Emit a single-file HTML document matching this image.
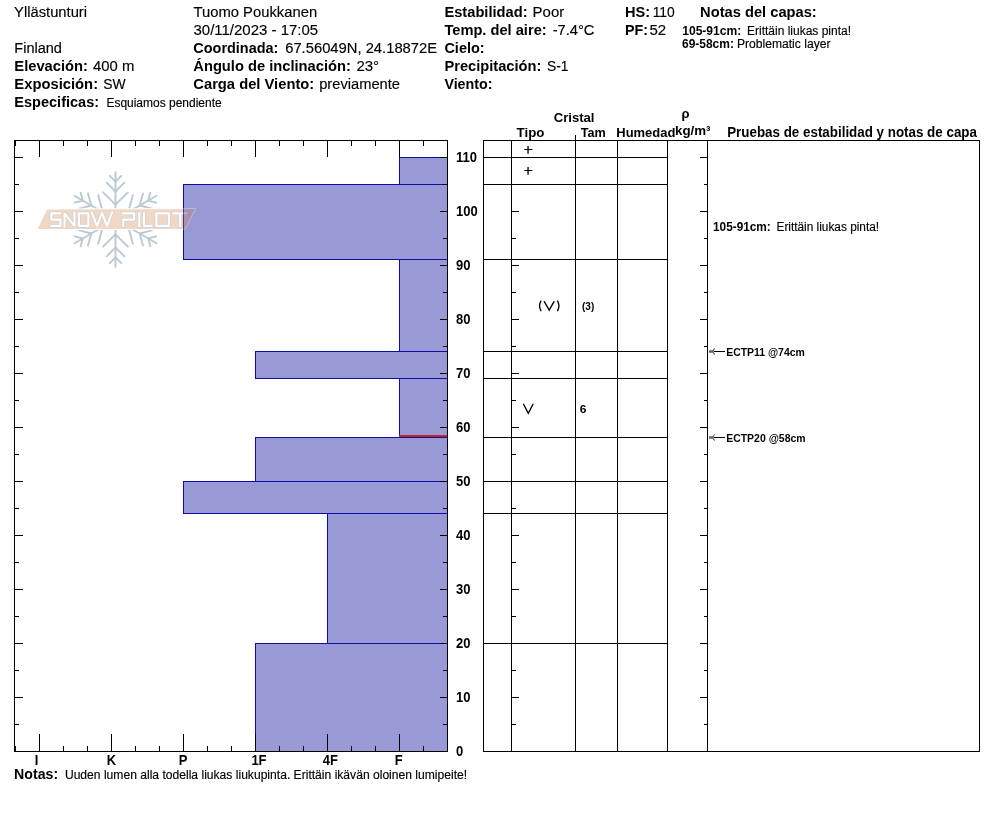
<!DOCTYPE html>
<html><head><meta charset="utf-8"><title>Snow profile</title>
<style>html,body{margin:0;padding:0;background:#fff;}svg{display:block;will-change:transform;}text{font-family:"Liberation Sans",sans-serif;fill:#000;}text.r{stroke:#000;stroke-width:0.15px;}</style>
</head><body>
<svg width="994" height="840" viewBox="0 0 994 840">
<rect x="0" y="0" width="994" height="840" fill="#fff"/>
<rect x="399" y="157" width="48" height="27" fill="rgba(0,0,152,0.4)"/>
<rect x="183" y="184" width="264" height="75" fill="rgba(0,0,152,0.4)"/>
<rect x="399" y="259" width="48" height="92" fill="rgba(0,0,152,0.4)"/>
<rect x="255" y="351" width="192" height="27" fill="rgba(0,0,152,0.4)"/>
<rect x="399" y="378" width="48" height="59" fill="rgba(0,0,152,0.4)"/>
<rect x="255" y="437" width="192" height="44" fill="rgba(0,0,152,0.4)"/>
<rect x="183" y="481" width="264" height="32" fill="rgba(0,0,152,0.4)"/>
<rect x="327" y="513" width="120" height="130" fill="rgba(0,0,152,0.4)"/>
<rect x="255" y="643" width="192" height="108" fill="rgba(0,0,152,0.4)"/>
<rect x="399" y="157" width="49" height="1" fill="#0c0ca6"/>
<rect x="399" y="184" width="49" height="1" fill="#0c0ca6"/>
<rect x="399" y="157" width="1" height="28" fill="#0c0ca6"/>
<rect x="183" y="184" width="265" height="1" fill="#0c0ca6"/>
<rect x="183" y="259" width="265" height="1" fill="#0c0ca6"/>
<rect x="183" y="184" width="1" height="76" fill="#0c0ca6"/>
<rect x="399" y="259" width="49" height="1" fill="#0c0ca6"/>
<rect x="399" y="351" width="49" height="1" fill="#0c0ca6"/>
<rect x="399" y="259" width="1" height="93" fill="#0c0ca6"/>
<rect x="255" y="351" width="193" height="1" fill="#0c0ca6"/>
<rect x="255" y="378" width="193" height="1" fill="#0c0ca6"/>
<rect x="255" y="351" width="1" height="28" fill="#0c0ca6"/>
<rect x="399" y="378" width="49" height="1" fill="#0c0ca6"/>
<rect x="399" y="437" width="49" height="1" fill="#0c0ca6"/>
<rect x="399" y="378" width="1" height="60" fill="#0c0ca6"/>
<rect x="255" y="437" width="193" height="1" fill="#0c0ca6"/>
<rect x="255" y="481" width="193" height="1" fill="#0c0ca6"/>
<rect x="255" y="437" width="1" height="45" fill="#0c0ca6"/>
<rect x="183" y="481" width="265" height="1" fill="#0c0ca6"/>
<rect x="183" y="513" width="265" height="1" fill="#0c0ca6"/>
<rect x="183" y="481" width="1" height="33" fill="#0c0ca6"/>
<rect x="327" y="513" width="121" height="1" fill="#0c0ca6"/>
<rect x="327" y="643" width="121" height="1" fill="#0c0ca6"/>
<rect x="327" y="513" width="1" height="131" fill="#0c0ca6"/>
<rect x="255" y="643" width="193" height="1" fill="#0c0ca6"/>
<rect x="255" y="751" width="193" height="1" fill="#0c0ca6"/>
<rect x="255" y="643" width="1" height="109" fill="#0c0ca6"/>
<rect x="399" y="435" width="48" height="2" fill="#c0281c"/>
<g opacity="0.3">
<g stroke="#204e70" stroke-width="1.9" stroke-linecap="round" fill="none">
<path d="M115.5,219.5L115.5,172.1"/>
<path d="M115.5,181.6L109.7,175.8"/>
<path d="M115.5,181.6L121.3,175.8"/>
<path d="M115.5,191.5L106.7,182.7"/>
<path d="M115.5,191.5L124.3,182.7"/>
<path d="M115.5,204.7L103.1,192.3"/>
<path d="M115.5,204.7L127.9,192.3"/>
<path d="M115.5,219.5L156.5,195.8"/>
<path d="M148.3,200.6L150.4,192.6"/>
<path d="M148.3,200.6L156.2,202.7"/>
<path d="M139.7,205.5L143.0,193.4"/>
<path d="M139.7,205.5L151.8,208.7"/>
<path d="M128.3,212.1L132.8,195.2"/>
<path d="M128.3,212.1L145.2,216.6"/>
<path d="M115.5,219.5L156.5,243.2"/>
<path d="M148.3,238.4L156.2,236.3"/>
<path d="M148.3,238.4L150.4,246.4"/>
<path d="M139.7,233.5L151.8,230.3"/>
<path d="M139.7,233.5L143.0,245.6"/>
<path d="M128.3,226.9L145.2,222.4"/>
<path d="M128.3,226.9L132.8,243.8"/>
<path d="M115.5,219.5L115.5,266.9"/>
<path d="M115.5,257.4L121.3,263.2"/>
<path d="M115.5,257.4L109.7,263.2"/>
<path d="M115.5,247.5L124.3,256.3"/>
<path d="M115.5,247.5L106.7,256.3"/>
<path d="M115.5,234.3L127.9,246.7"/>
<path d="M115.5,234.3L103.1,246.7"/>
<path d="M115.5,219.5L74.5,243.2"/>
<path d="M82.7,238.5L80.6,246.4"/>
<path d="M82.7,238.5L74.8,236.3"/>
<path d="M91.3,233.5L88.0,245.6"/>
<path d="M91.3,233.5L79.2,230.3"/>
<path d="M102.7,226.9L98.2,243.8"/>
<path d="M102.7,226.9L85.8,222.4"/>
<path d="M115.5,219.5L74.5,195.8"/>
<path d="M82.7,200.6L74.8,202.7"/>
<path d="M82.7,200.6L80.6,192.6"/>
<path d="M91.3,205.5L79.2,208.7"/>
<path d="M91.3,205.5L88.0,193.4"/>
<path d="M102.7,212.1L85.8,216.6"/>
<path d="M102.7,212.1L98.2,195.2"/>
</g>
<path d="M46.8,209 L195.6,208.6 L184.8,229.5 L37.0,229.5 Z" fill="#d08041" stroke="#ffffff" stroke-width="1"/>
<clipPath id="lc"><rect x="40" y="211.7" width="160" height="15.8"/></clipPath>
<path d="M60.45,213.35 H51.35 V219.6 H60.45 V225.85 H51.35 M78.85,213.35 H88.35 V225.85 H78.85 Z M122.8,213.35 H134.25 V219.6 H123.3 V225.85 M139.3,213.35 V225.85 M143.95,213.35 V225.85 H151.55 M156.35,213.35 H168.95 V225.85 H156.35 Z M173.35,213.35 H186.65 M180.2,213.35 V225.85" fill="none" stroke="#3a5c80" stroke-width="3.3" stroke-linecap="square" stroke-linejoin="round"/>
<path d="M64.55,229 V213.35 L74.45,225.85 V210 M91.1,210.2 L96.9,226.3 L101.95,212.6 L107,226.3 L112.8,210.2" clip-path="url(#lc)" fill="none" stroke="#3a5c80" stroke-width="3.3" stroke-linecap="butt" stroke-linejoin="miter" stroke-miterlimit="2"/>
<path d="M60.45,213.35 H51.35 V219.6 H60.45 V225.85 H51.35 M78.85,213.35 H88.35 V225.85 H78.85 Z M122.8,213.35 H134.25 V219.6 H123.3 V225.85 M139.3,213.35 V225.85 M143.95,213.35 V225.85 H151.55 M156.35,213.35 H168.95 V225.85 H156.35 Z M173.35,213.35 H186.65 M180.2,213.35 V225.85" fill="none" stroke="#ffffff" stroke-width="2.2" stroke-linecap="square" stroke-linejoin="round"/>
<path d="M64.55,229 V213.35 L74.45,225.85 V210 M91.1,210.2 L96.9,226.3 L101.95,212.6 L107,226.3 L112.8,210.2" clip-path="url(#lc)" fill="none" stroke="#ffffff" stroke-width="2.2" stroke-linecap="butt" stroke-linejoin="miter" stroke-miterlimit="2"/>
</g>
<rect x="14" y="140" width="434" height="1" fill="#000"/>
<rect x="14" y="751" width="434" height="1" fill="#000"/>
<rect x="14" y="140" width="1" height="612" fill="#000"/>
<rect x="447" y="140" width="1" height="612" fill="#000"/>
<rect x="15" y="141" width="1" height="5" fill="#000"/>
<rect x="15" y="746" width="1" height="5" fill="#000"/>
<rect x="39" y="141" width="1" height="16" fill="#000"/>
<rect x="39" y="734" width="1" height="17" fill="#000"/>
<rect x="63" y="141" width="1" height="5" fill="#000"/>
<rect x="63" y="746" width="1" height="5" fill="#000"/>
<rect x="87" y="141" width="1" height="5" fill="#000"/>
<rect x="87" y="746" width="1" height="5" fill="#000"/>
<rect x="111" y="141" width="1" height="16" fill="#000"/>
<rect x="111" y="734" width="1" height="17" fill="#000"/>
<rect x="135" y="141" width="1" height="5" fill="#000"/>
<rect x="135" y="746" width="1" height="5" fill="#000"/>
<rect x="159" y="141" width="1" height="5" fill="#000"/>
<rect x="159" y="746" width="1" height="5" fill="#000"/>
<rect x="183" y="141" width="1" height="16" fill="#000"/>
<rect x="183" y="734" width="1" height="17" fill="#000"/>
<rect x="207" y="141" width="1" height="5" fill="#000"/>
<rect x="207" y="746" width="1" height="5" fill="#000"/>
<rect x="231" y="141" width="1" height="5" fill="#000"/>
<rect x="231" y="746" width="1" height="5" fill="#000"/>
<rect x="255" y="141" width="1" height="16" fill="#000"/>
<rect x="255" y="734" width="1" height="17" fill="#000"/>
<rect x="279" y="141" width="1" height="5" fill="#000"/>
<rect x="279" y="746" width="1" height="5" fill="#000"/>
<rect x="303" y="141" width="1" height="5" fill="#000"/>
<rect x="303" y="746" width="1" height="5" fill="#000"/>
<rect x="327" y="141" width="1" height="16" fill="#000"/>
<rect x="327" y="734" width="1" height="17" fill="#000"/>
<rect x="351" y="141" width="1" height="5" fill="#000"/>
<rect x="351" y="746" width="1" height="5" fill="#000"/>
<rect x="375" y="141" width="1" height="5" fill="#000"/>
<rect x="375" y="746" width="1" height="5" fill="#000"/>
<rect x="399" y="141" width="1" height="16" fill="#000"/>
<rect x="399" y="734" width="1" height="17" fill="#000"/>
<rect x="423" y="141" width="1" height="5" fill="#000"/>
<rect x="423" y="746" width="1" height="5" fill="#000"/>
<rect x="15" y="724" width="4" height="1" fill="#000"/>
<rect x="443" y="724" width="4" height="1" fill="#000"/>
<rect x="15" y="697" width="8" height="1" fill="#000"/>
<rect x="440" y="697" width="7" height="1" fill="#000"/>
<rect x="15" y="670" width="4" height="1" fill="#000"/>
<rect x="443" y="670" width="4" height="1" fill="#000"/>
<rect x="15" y="643" width="8" height="1" fill="#000"/>
<rect x="440" y="643" width="7" height="1" fill="#000"/>
<rect x="15" y="616" width="4" height="1" fill="#000"/>
<rect x="443" y="616" width="4" height="1" fill="#000"/>
<rect x="15" y="589" width="8" height="1" fill="#000"/>
<rect x="440" y="589" width="7" height="1" fill="#000"/>
<rect x="15" y="562" width="4" height="1" fill="#000"/>
<rect x="443" y="562" width="4" height="1" fill="#000"/>
<rect x="15" y="535" width="8" height="1" fill="#000"/>
<rect x="440" y="535" width="7" height="1" fill="#000"/>
<rect x="15" y="508" width="4" height="1" fill="#000"/>
<rect x="443" y="508" width="4" height="1" fill="#000"/>
<rect x="15" y="481" width="8" height="1" fill="#000"/>
<rect x="440" y="481" width="7" height="1" fill="#000"/>
<rect x="15" y="454" width="4" height="1" fill="#000"/>
<rect x="443" y="454" width="4" height="1" fill="#000"/>
<rect x="15" y="427" width="8" height="1" fill="#000"/>
<rect x="440" y="427" width="7" height="1" fill="#000"/>
<rect x="15" y="400" width="4" height="1" fill="#000"/>
<rect x="443" y="400" width="4" height="1" fill="#000"/>
<rect x="15" y="373" width="8" height="1" fill="#000"/>
<rect x="440" y="373" width="7" height="1" fill="#000"/>
<rect x="15" y="346" width="4" height="1" fill="#000"/>
<rect x="443" y="346" width="4" height="1" fill="#000"/>
<rect x="15" y="319" width="8" height="1" fill="#000"/>
<rect x="440" y="319" width="7" height="1" fill="#000"/>
<rect x="15" y="292" width="4" height="1" fill="#000"/>
<rect x="443" y="292" width="4" height="1" fill="#000"/>
<rect x="15" y="265" width="8" height="1" fill="#000"/>
<rect x="440" y="265" width="7" height="1" fill="#000"/>
<rect x="15" y="238" width="4" height="1" fill="#000"/>
<rect x="443" y="238" width="4" height="1" fill="#000"/>
<rect x="15" y="211" width="8" height="1" fill="#000"/>
<rect x="440" y="211" width="7" height="1" fill="#000"/>
<rect x="15" y="184" width="4" height="1" fill="#000"/>
<rect x="443" y="184" width="4" height="1" fill="#000"/>
<rect x="15" y="157" width="8" height="1" fill="#000"/>
<rect x="440" y="157" width="7" height="1" fill="#000"/>
<text x="456.0" y="756.0" font-size="14" font-weight="bold" textLength="7.23" lengthAdjust="spacingAndGlyphs">0</text>
<text x="456.0" y="702.0" font-size="14" font-weight="bold" textLength="14.46" lengthAdjust="spacingAndGlyphs">10</text>
<text x="456.0" y="648.0" font-size="14" font-weight="bold" textLength="14.46" lengthAdjust="spacingAndGlyphs">20</text>
<text x="456.0" y="594.0" font-size="14" font-weight="bold" textLength="14.46" lengthAdjust="spacingAndGlyphs">30</text>
<text x="456.0" y="540.0" font-size="14" font-weight="bold" textLength="14.46" lengthAdjust="spacingAndGlyphs">40</text>
<text x="456.0" y="486.0" font-size="14" font-weight="bold" textLength="14.46" lengthAdjust="spacingAndGlyphs">50</text>
<text x="456.0" y="432.0" font-size="14" font-weight="bold" textLength="14.46" lengthAdjust="spacingAndGlyphs">60</text>
<text x="456.0" y="378.0" font-size="14" font-weight="bold" textLength="14.46" lengthAdjust="spacingAndGlyphs">70</text>
<text x="456.0" y="324.0" font-size="14" font-weight="bold" textLength="14.46" lengthAdjust="spacingAndGlyphs">80</text>
<text x="456.0" y="270.0" font-size="14" font-weight="bold" textLength="14.46" lengthAdjust="spacingAndGlyphs">90</text>
<text x="456.0" y="216.0" font-size="14" font-weight="bold" textLength="21.69" lengthAdjust="spacingAndGlyphs">100</text>
<text x="456.0" y="162.0" font-size="14" font-weight="bold" textLength="20.97" lengthAdjust="spacingAndGlyphs">110</text>
<text x="394.7" y="765" font-size="14" font-weight="bold" textLength="7.94" lengthAdjust="spacingAndGlyphs">F</text>
<text x="322.7" y="765" font-size="14" font-weight="bold" textLength="15.17" lengthAdjust="spacingAndGlyphs">4F</text>
<text x="251.4" y="765" font-size="14" font-weight="bold" textLength="15.17" lengthAdjust="spacingAndGlyphs">1F</text>
<text x="178.7" y="765" font-size="14" font-weight="bold" textLength="8.67" lengthAdjust="spacingAndGlyphs">P</text>
<text x="106.7" y="765" font-size="14" font-weight="bold" textLength="9.39" lengthAdjust="spacingAndGlyphs">K</text>
<text x="34.7" y="765" font-size="14" font-weight="bold" textLength="3.61" lengthAdjust="spacingAndGlyphs">I</text>
<rect x="483" y="140" width="497" height="1" fill="#000"/>
<rect x="483" y="751" width="497" height="1" fill="#000"/>
<rect x="483" y="140" width="1" height="612" fill="#000"/>
<rect x="511" y="140" width="1" height="612" fill="#000"/>
<rect x="575" y="135" width="1" height="617" fill="#000"/>
<rect x="617" y="140" width="1" height="612" fill="#000"/>
<rect x="667" y="140" width="1" height="612" fill="#000"/>
<rect x="707" y="140" width="1" height="612" fill="#000"/>
<rect x="979" y="140" width="1" height="612" fill="#000"/>
<rect x="483" y="157" width="185" height="1" fill="#000"/>
<rect x="483" y="184" width="185" height="1" fill="#000"/>
<rect x="483" y="259" width="185" height="1" fill="#000"/>
<rect x="483" y="351" width="185" height="1" fill="#000"/>
<rect x="483" y="378" width="185" height="1" fill="#000"/>
<rect x="483" y="437" width="185" height="1" fill="#000"/>
<rect x="483" y="481" width="185" height="1" fill="#000"/>
<rect x="483" y="513" width="185" height="1" fill="#000"/>
<rect x="483" y="643" width="185" height="1" fill="#000"/>
<rect x="512" y="724" width="4" height="1" fill="#000"/>
<rect x="704" y="724" width="3" height="1" fill="#000"/>
<rect x="512" y="697" width="7" height="1" fill="#000"/>
<rect x="700" y="697" width="7" height="1" fill="#000"/>
<rect x="512" y="670" width="4" height="1" fill="#000"/>
<rect x="704" y="670" width="3" height="1" fill="#000"/>
<rect x="512" y="643" width="7" height="1" fill="#000"/>
<rect x="700" y="643" width="7" height="1" fill="#000"/>
<rect x="512" y="616" width="4" height="1" fill="#000"/>
<rect x="704" y="616" width="3" height="1" fill="#000"/>
<rect x="512" y="589" width="7" height="1" fill="#000"/>
<rect x="700" y="589" width="7" height="1" fill="#000"/>
<rect x="512" y="562" width="4" height="1" fill="#000"/>
<rect x="704" y="562" width="3" height="1" fill="#000"/>
<rect x="512" y="535" width="7" height="1" fill="#000"/>
<rect x="700" y="535" width="7" height="1" fill="#000"/>
<rect x="512" y="508" width="4" height="1" fill="#000"/>
<rect x="704" y="508" width="3" height="1" fill="#000"/>
<rect x="512" y="481" width="7" height="1" fill="#000"/>
<rect x="700" y="481" width="7" height="1" fill="#000"/>
<rect x="512" y="454" width="4" height="1" fill="#000"/>
<rect x="704" y="454" width="3" height="1" fill="#000"/>
<rect x="512" y="427" width="7" height="1" fill="#000"/>
<rect x="700" y="427" width="7" height="1" fill="#000"/>
<rect x="512" y="400" width="4" height="1" fill="#000"/>
<rect x="704" y="400" width="3" height="1" fill="#000"/>
<rect x="512" y="373" width="7" height="1" fill="#000"/>
<rect x="700" y="373" width="7" height="1" fill="#000"/>
<rect x="512" y="346" width="4" height="1" fill="#000"/>
<rect x="704" y="346" width="3" height="1" fill="#000"/>
<rect x="512" y="319" width="7" height="1" fill="#000"/>
<rect x="700" y="319" width="7" height="1" fill="#000"/>
<rect x="512" y="292" width="4" height="1" fill="#000"/>
<rect x="704" y="292" width="3" height="1" fill="#000"/>
<rect x="512" y="265" width="7" height="1" fill="#000"/>
<rect x="700" y="265" width="7" height="1" fill="#000"/>
<rect x="512" y="238" width="4" height="1" fill="#000"/>
<rect x="704" y="238" width="3" height="1" fill="#000"/>
<rect x="512" y="211" width="7" height="1" fill="#000"/>
<rect x="700" y="211" width="7" height="1" fill="#000"/>
<rect x="512" y="184" width="4" height="1" fill="#000"/>
<rect x="704" y="184" width="3" height="1" fill="#000"/>
<rect x="512" y="157" width="7" height="1" fill="#000"/>
<rect x="700" y="157" width="7" height="1" fill="#000"/>
<text x="553.7" y="122" font-size="13.4" font-weight="bold" textLength="40.83" lengthAdjust="spacingAndGlyphs">Cristal</text>
<text x="516.6" y="136.8" font-size="13.4" font-weight="bold" textLength="27.93" lengthAdjust="spacingAndGlyphs">Tipo</text>
<text x="580.7" y="136.8" font-size="13.4" font-weight="bold" textLength="25.02" lengthAdjust="spacingAndGlyphs">Tam</text>
<text x="616.3" y="136.8" font-size="13.4" font-weight="bold" textLength="59.02" lengthAdjust="spacingAndGlyphs">Humedad</text>
<text x="675.0" y="135.0" font-size="13.4" font-weight="bold" textLength="35.53" lengthAdjust="spacingAndGlyphs">kg/m³</text>
<text x="681.5" y="118.2" font-size="13" font-weight="bold" textLength="8.04" lengthAdjust="spacingAndGlyphs">ρ</text>
<text x="727.2" y="136.8" font-size="13.8" font-weight="bold" textLength="249.75" lengthAdjust="spacingAndGlyphs">Pruebas de estabilidad y notas de capa</text>
<path d="M524.3,149.5H532.4" stroke="#000" stroke-width="1" fill="none"/>
<path d="M528.05,146.1V153.8" stroke="#000" stroke-width="1.35" fill="none"/>
<path d="M524.3,170.5H532.4" stroke="#000" stroke-width="1" fill="none"/>
<path d="M528.05,167.1V174.8" stroke="#000" stroke-width="1.35" fill="none"/>
<g stroke="#000" stroke-width="1.35" fill="none" stroke-linecap="round" stroke-linejoin="miter">
<path d="M544.3,301.6 L549.2,310.2 L554.0,301.6"/>
<path d="M540.9,301 Q538.2,305.8 540.9,310.7"/>
<path d="M557.6,301 Q560.3,305.8 557.6,310.7"/>
<path d="M523.6,404.3 L528.3,413.2 L533.0,404.3"/>
</g>
<text x="582" y="310" font-size="10" font-weight="bold">(3)</text>
<text x="579.7" y="413" font-size="10" font-weight="bold" textLength="6.71" lengthAdjust="spacingAndGlyphs">6</text>
<text x="713" y="230.8" font-size="12" font-weight="bold" textLength="57.8" lengthAdjust="spacingAndGlyphs">105-91cm:</text>
<text x="776.5" y="230.8" font-size="12" class="r" textLength="102.6" lengthAdjust="spacingAndGlyphs">Erittäin liukas pinta!</text>
<path d="M709,351.5 H713.7" stroke="#646464" stroke-width="2.5" fill="none"/>
<path d="M714.4,348.8 L712.4,351.5 L714.4,354.2" stroke="#6a6a6a" stroke-width="1.2" fill="none" stroke-linecap="round"/>
<rect x="714" y="351" width="11" height="1" fill="#000"/>
<text x="726.2" y="356" font-size="10.2" font-weight="bold" textLength="78.6" lengthAdjust="spacingAndGlyphs">ECTP11 @74cm</text>
<path d="M709,437.5 H713.7" stroke="#646464" stroke-width="2.5" fill="none"/>
<path d="M714.4,434.8 L712.4,437.5 L714.4,440.2" stroke="#6a6a6a" stroke-width="1.2" fill="none" stroke-linecap="round"/>
<rect x="714" y="437" width="11" height="1" fill="#000"/>
<text x="726.2" y="442" font-size="10.2" font-weight="bold" textLength="79.4" lengthAdjust="spacingAndGlyphs">ECTP20 @58cm</text>
<text x="14.1" y="16.5" font-size="15.5" class="r" textLength="72.93" lengthAdjust="spacingAndGlyphs">Yllästunturi</text>
<text x="14.3" y="52.5" font-size="15.5" class="r" textLength="47.6" lengthAdjust="spacingAndGlyphs">Finland</text>
<text x="14.3" y="70.5" font-size="15" font-weight="bold" textLength="73.73" lengthAdjust="spacingAndGlyphs">Elevación:</text>
<text x="93.0" y="70.5" font-size="15.5" class="r" textLength="41.29" lengthAdjust="spacingAndGlyphs">400 m</text>
<text x="14.3" y="88.5" font-size="15" font-weight="bold" textLength="83.77" lengthAdjust="spacingAndGlyphs">Exposición:</text>
<text x="103.2" y="88.5" font-size="15.5" class="r" textLength="22.41" lengthAdjust="spacingAndGlyphs">SW</text>
<text x="14.3" y="106.5" font-size="15" font-weight="bold" textLength="84.82" lengthAdjust="spacingAndGlyphs">Especificas:</text>
<text x="106.4" y="106.5" font-size="12" class="r" textLength="115.28" lengthAdjust="spacingAndGlyphs">Esquiamos pendiente</text>
<text x="193.5" y="16.5" font-size="15.5" class="r" textLength="123.63" lengthAdjust="spacingAndGlyphs">Tuomo Poukkanen</text>
<text x="193.5" y="34.5" font-size="15.5" class="r" textLength="124.63" lengthAdjust="spacingAndGlyphs">30/11/2023 - 17:05</text>
<text x="193.3" y="52.5" font-size="15" font-weight="bold" textLength="85.08" lengthAdjust="spacingAndGlyphs">Coordinada:</text>
<text x="285.2" y="52.5" font-size="15.5" class="r" textLength="151.93" lengthAdjust="spacingAndGlyphs">67.56049N, 24.18872E</text>
<text x="193.3" y="70.5" font-size="15" font-weight="bold" textLength="157.53" lengthAdjust="spacingAndGlyphs">Ángulo de inclinación:</text>
<text x="356.4" y="70.5" font-size="15.5" class="r" textLength="22.73" lengthAdjust="spacingAndGlyphs">23°</text>
<text x="193.3" y="88.5" font-size="15" font-weight="bold" textLength="120.91" lengthAdjust="spacingAndGlyphs">Carga del Viento:</text>
<text x="319.2" y="88.5" font-size="15.5" class="r" textLength="80.77" lengthAdjust="spacingAndGlyphs">previamente</text>
<text x="444.4" y="16.5" font-size="15" font-weight="bold" textLength="83.17" lengthAdjust="spacingAndGlyphs">Estabilidad:</text>
<text x="532.6" y="16.5" font-size="15.5" class="r" textLength="31.64" lengthAdjust="spacingAndGlyphs">Poor</text>
<text x="444.4" y="34.5" font-size="15" font-weight="bold" textLength="102.28" lengthAdjust="spacingAndGlyphs">Temp. del aire:</text>
<text x="552.7" y="34.5" font-size="15.5" class="r" textLength="41.8" lengthAdjust="spacingAndGlyphs">-7.4°C</text>
<text x="444.4" y="52.5" font-size="15" font-weight="bold" textLength="40.27" lengthAdjust="spacingAndGlyphs">Cielo:</text>
<text x="444.4" y="70.5" font-size="15" font-weight="bold" textLength="96.97" lengthAdjust="spacingAndGlyphs">Precipitación:</text>
<text x="547.0" y="70.5" font-size="15.5" class="r" textLength="21.42" lengthAdjust="spacingAndGlyphs">S-1</text>
<text x="444.4" y="88.5" font-size="15" font-weight="bold" textLength="48.11" lengthAdjust="spacingAndGlyphs">Viento:</text>
<text x="624.9" y="16.5" font-size="15" font-weight="bold" textLength="25.13" lengthAdjust="spacingAndGlyphs">HS:</text>
<text x="652.7" y="16.5" font-size="15.5" class="r" textLength="22.09" lengthAdjust="spacingAndGlyphs">110</text>
<text x="624.9" y="34.5" font-size="15" font-weight="bold" textLength="23.01" lengthAdjust="spacingAndGlyphs">PF:</text>
<text x="649.5" y="34.5" font-size="15.5" class="r" textLength="16.74" lengthAdjust="spacingAndGlyphs">52</text>
<text x="700.1" y="16.5" font-size="15" font-weight="bold" textLength="116.66" lengthAdjust="spacingAndGlyphs">Notas del capas:</text>
<text x="682.2" y="34.6" font-size="12" font-weight="bold" textLength="59.13" lengthAdjust="spacingAndGlyphs">105-91cm:</text>
<text x="747.0" y="34.6" font-size="12" class="r" textLength="104.01" lengthAdjust="spacingAndGlyphs">Erittäin liukas pinta!</text>
<text x="682.0" y="47.8" font-size="12" font-weight="bold" textLength="51.91" lengthAdjust="spacingAndGlyphs">69-58cm:</text>
<text x="736.9" y="47.8" font-size="12" class="r" textLength="93.6" lengthAdjust="spacingAndGlyphs">Problematic layer</text>
<text x="14.1" y="778.6" font-size="15" font-weight="bold" textLength="44.02" lengthAdjust="spacingAndGlyphs">Notas:</text>
<text x="64.9" y="778.6" font-size="12" class="r" textLength="402.27" lengthAdjust="spacingAndGlyphs">Uuden lumen alla todella liukas liukupinta. Erittäin ikävän oloinen lumipeite!</text>
</svg></body></html>
